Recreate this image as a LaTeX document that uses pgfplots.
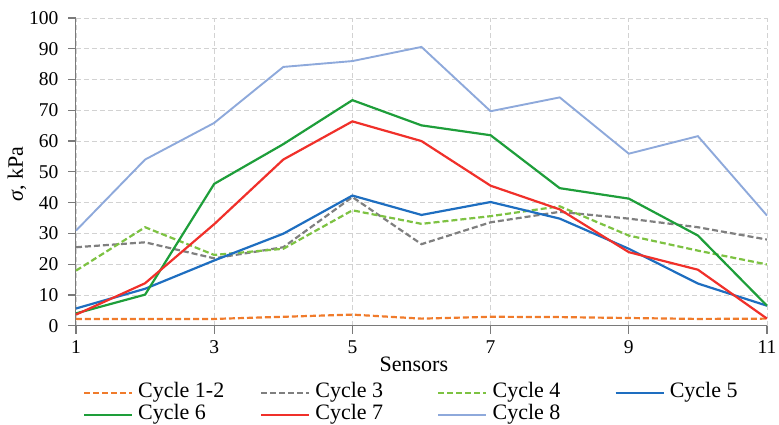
\documentclass[border=0pt]{standalone}
\usepackage{pgfplots}
\pgfplotsset{compat=1.18}
\usepackage{fontspec}
\setmainfont{Liberation Serif}
\definecolor{c12}{HTML}{F07B2B}
\definecolor{c3}{HTML}{7F7F7F}
\definecolor{c4}{HTML}{7DC242}
\definecolor{c5}{HTML}{1E6EC0}
\definecolor{c6}{HTML}{1E9E3A}
\definecolor{c7}{HTML}{F0302A}
\definecolor{c8}{HTML}{8EA9DB}
\definecolor{axgray}{HTML}{7A7A7A}
\begin{document}
\begin{tikzpicture}
\begin{axis}[
  name=ax,
  scale only axis,
  width=691pt, height=307.7pt,
  xmin=1, xmax=11, ymin=0, ymax=100,
  xtick={1,3,5,7,9,11},
  ytick={0,10,...,100},
  axis x line*=bottom, axis y line*=left,
  axis line style={-, draw=axgray, line width=1pt},
  major tick length=0pt,
  grid=major,
  major grid style={draw=gray!35, line width=0.8pt, dash pattern=on 5pt off 3pt},
  /pgf/number format/assume math mode=true,
  tick label style={font=\fontsize{19.5}{19.5}\selectfont},
  xticklabel style={anchor=north, yshift=-11pt},
  yticklabel style={anchor=east, xshift=-14pt},
  xlabel={Sensors},
  xlabel style={font=\fontsize{22}{22}\selectfont, at={(axis description cs:0.489,-0.150)}, anchor=base},
  ylabel={\textit{σ}, kPa},
  ylabel style={font=\fontsize{22}{22}\selectfont, at={(axis description cs:-0.0854,0.493)}, anchor=center, rotate=0},
  clip=false,
  legend columns=4,
  legend cell align=left,
  legend image code/.code={\draw[#1] (0pt,0pt) -- (48pt,0pt);},
  legend style={draw=none, fill=none, inner sep=0pt, outer sep=0pt,
    at={(axis description cs:0.0101,-0.183)}, anchor=north west,
    font=\fontsize{22}{22}\selectfont,
    column sep=0pt, row sep=0pt,
    /tikz/every odd column/.append style={column sep=5pt},
    nodes={inner sep=0pt, text height=15pt, text depth=7pt}},
]
\pgfplotsinvokeforeach{1,3,5,7,9,11}{\draw[axgray, line width=1.2pt] (axis cs:#1,0) -- ++(0pt,-8pt);}
\pgfplotsinvokeforeach{0,10,20,30,40,50,60,70,80,90,100}{\draw[axgray, line width=1.2pt] (axis cs:1,#1) -- ++(-8pt,0pt);}
\addplot[c12, line width=2.2pt, dash pattern=on 6pt off 3pt] coordinates {(1,2.2)(2,2.2)(3,2.2)(4,2.9)(5,3.6)(6,2.3)(7,2.9)(8,2.8)(9,2.5)(10,2.2)(11,2.3)};
\addlegendentry{\makebox[122pt][l]{Cycle 1-2}}
\addplot[c3, line width=2.2pt, dash pattern=on 6pt off 3pt] coordinates {(1,25.5)(2,27.1)(3,21.9)(4,25.5)(5,41.8)(6,26.5)(7,33.6)(8,37)(9,34.8)(10,32)(11,28)};
\addlegendentry{\makebox[122pt][l]{Cycle 3}}
\addplot[c4, line width=2.2pt, dash pattern=on 6pt off 3pt] coordinates {(1,17.9)(2,32)(3,23)(4,25)(5,37.5)(6,33.1)(7,35.6)(8,38.8)(9,29.3)(10,24.4)(11,19.9)};
\addlegendentry{\makebox[122pt][l]{Cycle 4}}
\addplot[c5, line width=2.2pt] coordinates {(1,5.6)(2,12)(3,21.2)(4,29.9)(5,42.3)(6,36)(7,40.2)(8,34.8)(9,25)(10,13.7)(11,6.5)};
\addlegendentry{\makebox[80pt][l]{Cycle 5}}
\addplot[c6, line width=2.2pt] coordinates {(1,4)(2,10.1)(3,46.1)(4,59)(5,73.3)(6,65.1)(7,61.9)(8,44.7)(9,41.3)(10,29.3)(11,6.5)};
\addlegendentry{\makebox[122pt][l]{Cycle 6}}
\addplot[c7, line width=2.2pt] coordinates {(1,3.6)(2,13.8)(3,33)(4,54)(5,66.4)(6,60)(7,45.5)(8,37.8)(9,23.9)(10,18.2)(11,2.3)};
\addlegendentry{\makebox[122pt][l]{Cycle 7}}
\addplot[c8, line width=1.9pt] coordinates {(1,30.9)(2,54)(3,65.9)(4,84.1)(5,86)(6,90.6)(7,69.7)(8,74.2)(9,55.9)(10,61.6)(11,35.8)};
\addlegendentry{\makebox[122pt][l]{Cycle 8}}
\end{axis}
\pgfresetboundingbox
\path ([shift={(-76pt,-98.3pt)}]ax.south west) rectangle ([shift={(12pt,18pt)}]ax.north east);
\end{tikzpicture}
\end{document}
